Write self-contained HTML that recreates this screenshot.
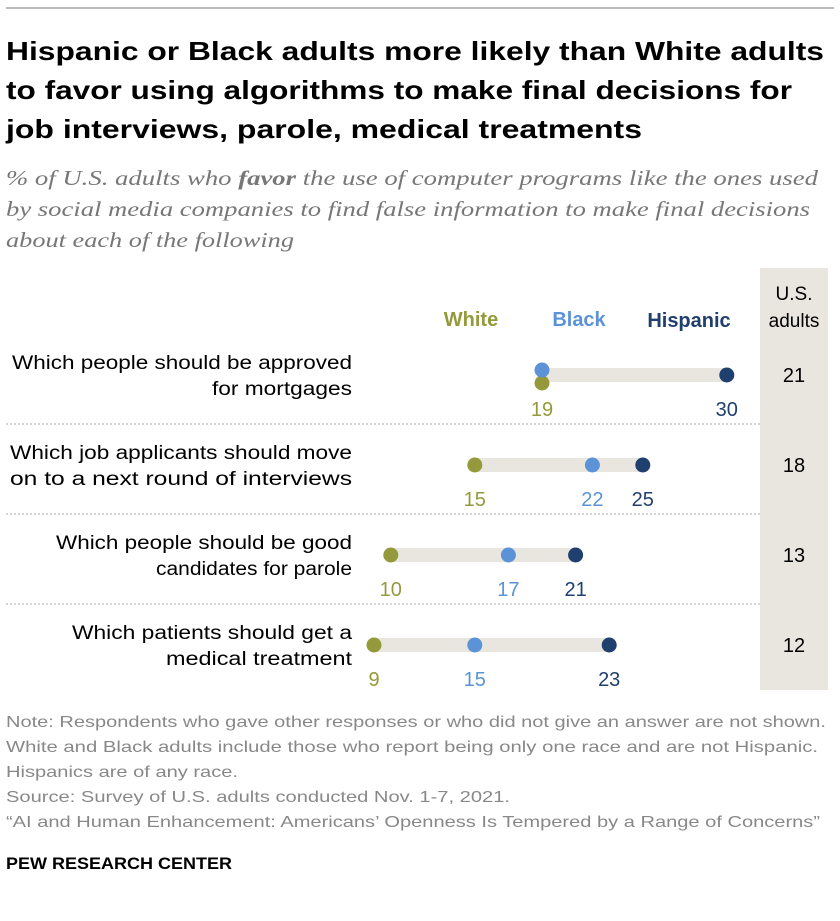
<!DOCTYPE html>
<html><head><meta charset="utf-8"><style>
body{margin:0;background:#fff;width:840px;height:916px;overflow:hidden;font-family:"Liberation Sans",sans-serif;}
svg text{font-family:"Liberation Sans",sans-serif;}
</style></head><body>
<svg width="840" height="916">
<line x1="6" y1="8" x2="834" y2="8" stroke="#777" stroke-width="1"/>
<g font-size="26" font-weight="bold" fill="#000" lengthAdjust="spacingAndGlyphs">
<text x="6" y="60" textLength="818" lengthAdjust="spacingAndGlyphs">Hispanic or Black adults more likely than White adults</text>
<text x="6" y="99" textLength="786" lengthAdjust="spacingAndGlyphs">to favor using algorithms to make final decisions for</text>
<text x="6" y="138" textLength="636" lengthAdjust="spacingAndGlyphs">job interviews, parole, medical treatments</text>
</g>
<g font-size="21" font-style="italic" fill="#777">
<text x="6" y="185" textLength="812" lengthAdjust="spacingAndGlyphs" style="font-family:'Liberation Serif',serif">% of U.S. adults who <tspan font-weight="bold">favor</tspan> the use of computer programs like the ones used</text>
<text x="6" y="216" textLength="804" lengthAdjust="spacingAndGlyphs" style="font-family:'Liberation Serif',serif">by social media companies to find false information to make final decisions</text>
<text x="6" y="247" textLength="288" lengthAdjust="spacingAndGlyphs" style="font-family:'Liberation Serif',serif">about each of the following</text>
</g>
<rect x="760" y="268" width="68" height="422" fill="#e8e6df"/>
<text x="794" y="300" text-anchor="middle" font-size="19" fill="#000">U.S.</text>
<text x="794" y="327" text-anchor="middle" font-size="19" fill="#000">adults</text>
<text x="471" y="326" text-anchor="middle" font-size="20" font-weight="bold" fill="#949a3c">White</text>
<text x="579" y="326" text-anchor="middle" font-size="20" font-weight="bold" fill="#5b93d6">Black</text>
<text x="689" y="327" text-anchor="middle" font-size="20" font-weight="bold" fill="#1f3f6e">Hispanic</text>
<g id="rows"></g>
<g font-size="16" fill="#888">
<text x="6" y="727" textLength="820" lengthAdjust="spacingAndGlyphs">Note: Respondents who gave other responses or who did not give an answer are not shown.</text>
<text x="6" y="752" textLength="812" lengthAdjust="spacingAndGlyphs">White and Black adults include those who report being only one race and are not Hispanic.</text>
<text x="6" y="777" textLength="232" lengthAdjust="spacingAndGlyphs">Hispanics are of any race.</text>
<text x="6" y="802" textLength="504" lengthAdjust="spacingAndGlyphs">Source: Survey of U.S. adults conducted Nov. 1-7, 2021.</text>
<text x="6" y="827" textLength="814" lengthAdjust="spacingAndGlyphs">“AI and Human Enhancement: Americans’ Openness Is Tempered by a Range of Concerns”</text>
</g>
<text x="6" y="869" font-size="17" font-weight="bold" fill="#000" textLength="226" lengthAdjust="spacingAndGlyphs">PEW RESEARCH CENTER</text>
</svg>
<script>
const labels1=["Which people should be approved","Which job applicants should move","Which people should be good","Which patients should get a"];
const labels2=["for mortgages","on to a next round of interviews","candidates for parole","medical treatment"];
const len1=[340,342,296,280];
const len2=[140,342,196,186];
const white=[19,15,10,9];
const black=[19,22,17,15];
const hispanic=[30,25,21,23];
const usAdults=[21,18,13,12];
const NS="http://www.w3.org/2000/svg";
const g=document.getElementById('rows');
function x(v){return 374+(v-9)*16.8;}
function mk(t,a,p){const e=document.createElementNS(NS,t);for(const k in a)e.setAttribute(k,a[k]);p.appendChild(e);return e;}
for(let i=0;i<labels1.length;i++){
 const cy=375+i*90;
 const row=mk('g',{},g);
 
 
 if(i<labels1.length-1){const l=mk('line',{x1:6,x2:760,y1:cy+49,y2:cy+49,stroke:'#aaa','stroke-dasharray':'2,2'},row);
  
  }
 const t1=mk('text',{x:352,y:cy-6,'text-anchor':'end','font-size':19,fill:'#000',textLength:len1[i],lengthAdjust:'spacingAndGlyphs'},row);t1.textContent=labels1[i];
 
 
 const t2=mk('text',{x:352,y:cy+20,'text-anchor':'end','font-size':19,fill:'#000',textLength:len2[i],lengthAdjust:'spacingAndGlyphs'},row);t2.textContent=labels2[i];
 
 
 const mn=Math.min(white[i],black[i],hispanic[i]),mx=Math.max(white[i],black[i],hispanic[i]);
 const bar=mk('line',{x1:x(mn),x2:x(mx),y1:cy,y2:cy,stroke:'#e8e6df','stroke-width':14},row);
 
 
 const same=white[i]===black[i];
 const series=[[white,'#949a3c','white',same?8:0],[black,'#5b93d6','black',same?-5:0],[hispanic,'#1f3f6e','hispanic',0]];
 for(const [arr,c,n,dy] of series){
  const d=mk('circle',{cx:x(arr[i]),cy:cy+dy,r:7.5,fill:c},row);
  
  
  if(same&&n==='black')continue;
  const v=mk('text',{x:x(arr[i]),y:cy+41,'text-anchor':'middle','font-size':20,fill:c},row);v.textContent=arr[i];
  
  
 }
 const u=mk('text',{x:794,y:cy+7,'text-anchor':'middle','font-size':20,fill:'#000'},row);u.textContent=usAdults[i];
 
 
}
</script>
</body></html>
